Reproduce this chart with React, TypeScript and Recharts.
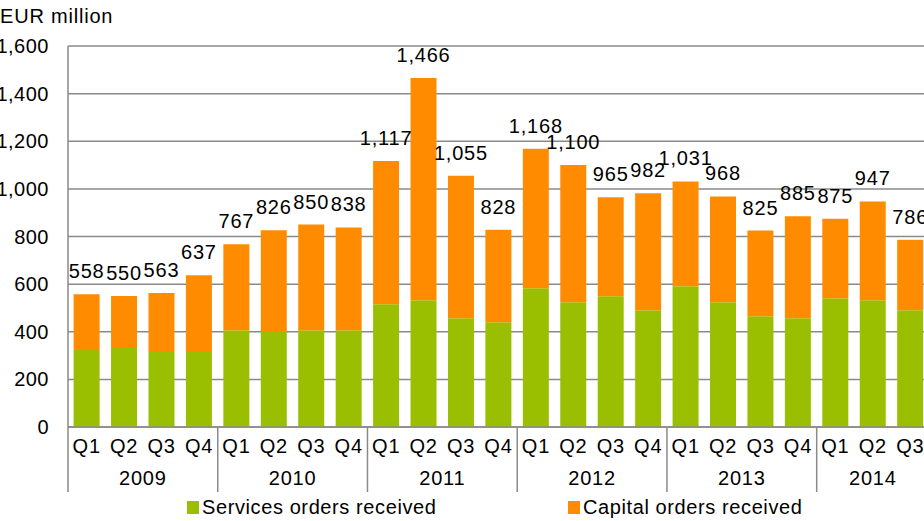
import React from 'react';
import { BarChart, Bar, XAxis, YAxis, CartesianGrid, Legend, LabelList } from 'recharts';

const years = ['2009', '2010', '2011', '2012', '2013', '2014'];
const quarters = ['Q1', 'Q2', 'Q3', 'Q4'];
// quarters per year shown (2014 stops at Q3)
const quartersPerYear = [4, 4, 4, 4, 4, 3];

const servicesOrders = [
    323, 332, 315, 315,
    406, 399, 406, 406,
    515, 532, 457, 440,
    583, 524, 549, 490,
    591, 524, 465, 457,
    541, 532, 490,
];
const totalOrders = [
    558, 550, 563, 637,
    767, 826, 850, 838,
    1117, 1466, 1055, 828,
    1168, 1100, 965, 982,
    1031, 968, 825, 885,
    875, 947, 786,
];
const yTicks = [0, 200, 400, 600, 800, 1000, 1200, 1400, 1600];

const GREEN = '#99bf00';
const ORANGE = '#ff8c00';
const GRID = '#8a8a8a';
const FONT = '"Liberation Sans", Arial, sans-serif';

const CHART_W = 940;
const CHART_H = 521;
const MARGIN = { top: 46, right: 11, left: 0, bottom: 0 };
const Y_AXIS_W = 68;

const data = years.flatMap((year, yi) =>
    quarters.slice(0, quartersPerYear[yi]).map((q, qi) => ({ year, q, first: qi === 0, size: quartersPerYear[yi] }))
).map((d, i) => ({
    ...d,
    services: servicesOrders[i],
    capital: totalOrders[i] - servicesOrders[i],
    total: totalOrders[i],
}));

const step = (CHART_W - MARGIN.left - MARGIN.right - Y_AXIS_W) / data.length;
const fmt = (v: number) => v.toLocaleString('en-US');

const textStyle = { fontFamily: FONT, fontSize: 20, letterSpacing: 0.8, fill: '#000' };

const QuarterTick = (props: any) => {
    const { x, y, payload, index } = props;
    const d = data[index];
    return (
        <g>
            <text x={x} y={y + 26} textAnchor="middle" style={textStyle}>{payload.value}</text>
            {d.first && (
                <>
                    <line x1={x - step / 2} x2={x - step / 2} y1={y} y2={y + 65} stroke={GRID} strokeWidth={1.5} />
                    <text x={x + ((d.size - 1) / 2) * step} y={y + 58} textAnchor="middle" style={textStyle}>{d.year}</text>
                </>
            )}
        </g>
    );
};

const TotalLabel = (props: any) => {
    const { x, y, width, index } = props;
    return (
        <text x={x + width / 2} y={y - 16} textAnchor="middle" style={textStyle}>
            {fmt(data[index].total)}
        </text>
    );
};

const LegendContent = () => (
    <div style={{ height: 29, position: 'relative', fontFamily: FONT, fontSize: 20, letterSpacing: 0.6 }}>
        <div style={{ position: 'absolute', left: 187, top: 4, display: 'flex', alignItems: 'center' }}>
            <span style={{ width: 12, height: 13, background: GREEN, marginRight: 3 }} />
            <span>Services orders received</span>
        </div>
        <div style={{ position: 'absolute', left: 568, top: 4, display: 'flex', alignItems: 'center' }}>
            <span style={{ width: 12, height: 13, background: ORANGE, marginRight: 3 }} />
            <span>Capital orders received</span>
        </div>
    </div>
);

export default function App() {
    return (
        <div style={{ position: 'absolute', left: 0, top: 0, width: 924, height: 521, overflow: 'hidden', background: '#fff' }}>
            <div style={{ position: 'absolute', left: 0, top: 5, fontFamily: FONT, fontSize: 20, letterSpacing: 0.8 }}>EUR million</div>
            <BarChart width={CHART_W} height={CHART_H} data={data} margin={MARGIN} barCategoryGap="15%">
                <CartesianGrid vertical={false} stroke={GRID} strokeWidth={1.5} />
                <YAxis
                    width={Y_AXIS_W}
                    domain={[0, 1600]}
                    ticks={yTicks}
                    tickFormatter={fmt}
                    tickLine={false}
                    tickSize={0}
                    tickMargin={19}
                    axisLine={{ stroke: GRID, strokeWidth: 1.5 }}
                    tick={{ ...textStyle, letterSpacing: 0.5 }}
                />
                <XAxis
                    dataKey="q"
                    interval={0}
                    height={65}
                    tickLine={false}
                    tickSize={0}
                    tickMargin={0}
                    axisLine={{ stroke: GRID, strokeWidth: 1.5 }}
                    tick={<QuarterTick />}
                />
                <Legend verticalAlign="bottom" content={<LegendContent />} wrapperStyle={{ left: 0, width: CHART_W }} />
                <Bar dataKey="services" stackId="a" fill={GREEN} isAnimationActive={false} />
                <Bar dataKey="capital" stackId="a" fill={ORANGE} isAnimationActive={false}>
                    <LabelList dataKey="total" content={<TotalLabel />} />
                </Bar>
            </BarChart>
        </div>
    );
}
